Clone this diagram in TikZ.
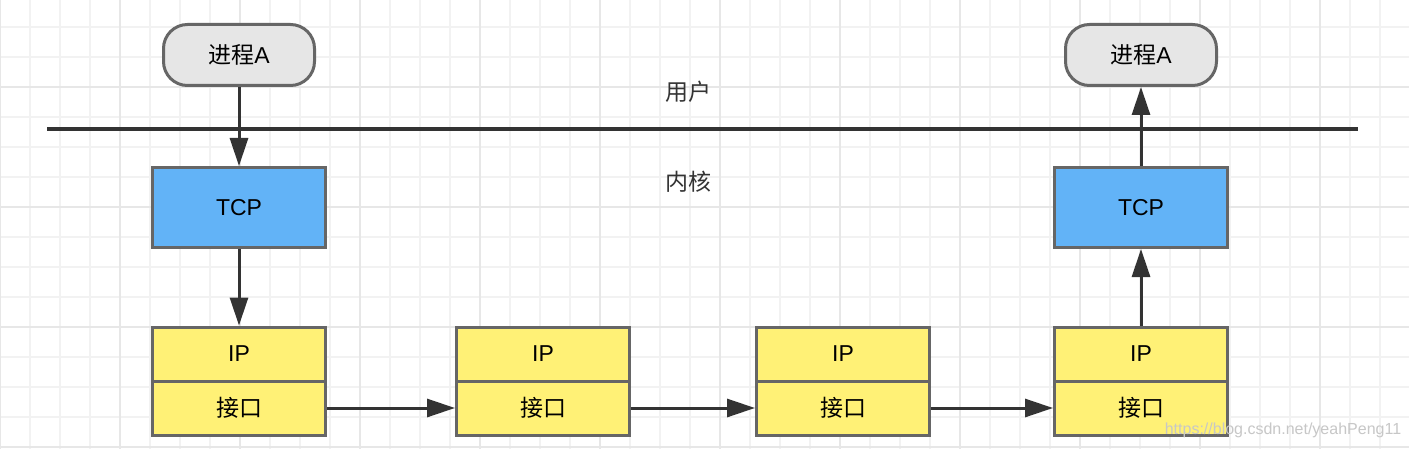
\documentclass[tikz,border=0pt]{standalone}
\usepackage{fontspec}
\setmainfont{Liberation Sans}
\newfontfamily\cjk{Noto Sans CJK SC}
\usetikzlibrary{positioning,arrows.meta}

\definecolor{gridminor}{HTML}{F2F2F2}
\definecolor{gridmajor}{HTML}{E7E7E7}
\definecolor{edgegray}{HTML}{666666}
\definecolor{linedark}{HTML}{333333}
\definecolor{procfill}{HTML}{E6E6E6}
\definecolor{tcpfill}{HTML}{62B3F7}
\definecolor{ipfill}{HTML}{FFF176}

\tikzset{
  layer/.style={draw=edgegray, line width=1.5pt, inner sep=0pt, text=black,
    font=\fontsize{11.5}{14}\selectfont},
  procbox/.style={layer, fill=procfill, rounded corners=12pt,
    minimum width=75.5pt, minimum height=30.5pt},
  tcpbox/.style={layer, fill=tcpfill, minimum width=86.5pt, minimum height=40pt},
  ipbox/.style={layer, fill=ipfill, minimum width=86.5pt, minimum height=27pt},
  flow/.style={draw=linedark, line width=1.5pt,
    -{Triangle[length=14pt,width=9pt]}},
  zone/.style={text=linedark, font=\fontsize{11.5}{14}\selectfont},
}

\begin{document}
\begin{tikzpicture}[x=0.5pt,y=-0.5pt]

  \useasboundingbox (0,0) rectangle (1409,449);

  % Background grid
  \fill[white] (0,0) rectangle (1409,449);
  \foreach \gx in {0,30,...,1400}
    \draw[gridminor,line width=0.8pt] (\gx,0) -- (\gx,449);
  \foreach \gy in {27,57,...,449}
    \draw[gridminor,line width=0.8pt] (0,\gy) -- (1409,\gy);
  \foreach \gx in {0,120,...,1400}
    \draw[gridmajor,line width=0.8pt] (\gx,0) -- (\gx,449);
  \foreach \gy in {87,207,327,447}
    \draw[gridmajor,line width=0.8pt] (0,\gy) -- (1409,\gy);

  % User / kernel boundary
  \coordinate (sepL) at (47,129);
  \coordinate (sepR) at (1358,129);
  \draw[linedark,line width=2pt] (sepL) -- (sepR);
  \node[zone] (user) at (688,92) {\cjk 用户};
  \node[zone] (kernel) at (688,182) {\cjk 内核};

  % Processes
  \node[procbox] (procL) at (239,55) {{\cjk 进程}A};
  \node[procbox] (procR) at (1141,55) {{\cjk 进程}A};

  % TCP layers
  \node[tcpbox] (tcpL) at (239,207.5) {TCP};
  \node[tcpbox] (tcpR) at (1141,207.5) {TCP};

  % IP / interface stacks
  \foreach \i/\cx in {1/239, 2/543, 3/843, 4/1141}{
    \node[ipbox] (ip\i) at (\cx,354) {IP};
    \node[ipbox,below=-1.5pt of ip\i] (if\i) {\cjk 接口};
  }

  % Data path
  \draw[flow] (procL) -- (tcpL);
  \draw[flow] (tcpL) -- (ip1);
  \draw[flow] (if1) -- (if2);
  \draw[flow] (if2) -- (if3);
  \draw[flow] (if3) -- (if4);
  \draw[flow] (ip4) -- (tcpR);
  \draw[flow] (tcpR) -- (procR);

  % Watermark
  \node[text=black!22,font=\fontsize{8}{10}\selectfont] (mark) at (1283,430)
    {https://blog.csdn.net/yeahPeng11};

\end{tikzpicture}
\end{document}
